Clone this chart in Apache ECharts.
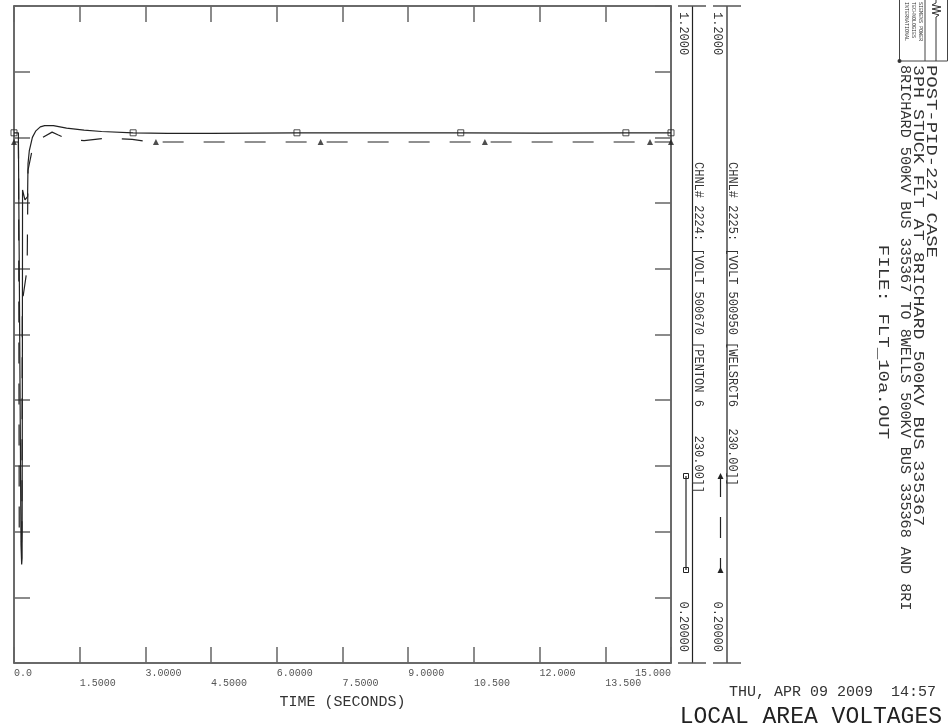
<!DOCTYPE html>
<html><head><meta charset="utf-8">
<script src="https://cdn.jsdelivr.net/npm/echarts@6/dist/echarts.min.js"></script>
<style>html,body{margin:0;padding:0;background:#fff}#c{width:951px;height:726px}</style>
</head><body><div id="c"></div>
<script>
// ---------------- data ----------------
const xTickLabels = ['0.0','1.5000','3.0000','4.5000','6.0000','7.5000','9.0000','10.500','12.000','13.500','15.000'];
const yMin = 0.2, yMax = 1.2;
const stripTopLabel = '1.2000';
const stripBottomLabel = '0.20000';

// CHNL# 2224 (solid, squares)
const time2224 = [0, 0.10, 0.11, 0.13, 0.16, 0.175, 0.185, 0.19, 0.195, 0.25, 0.31, 0.32, 0.35, 0.42, 0.5, 0.6, 0.7, 0.9, 1.2, 1.6, 2.0, 2.72, 3.5, 4.5, 5.5, 6.46, 8.0, 10.2, 12.0, 13.97, 15.0];
const volt2224 = [1.007, 1.007, 1.005, 0.70, 0.38, 0.35, 0.36, 0.60, 0.92, 0.905, 0.91, 0.96, 0.98, 1.000, 1.010, 1.016, 1.018, 1.018, 1.014, 1.011, 1.009, 1.007, 1.006, 1.006, 1.0065, 1.007, 1.007, 1.007, 1.0065, 1.007, 1.007];
const markerTimes2224 = [0, 2.72, 6.46, 10.2, 13.97, 15.0];

// CHNL# 2225 (dashed, triangles)
const time2225 = [0, 0.10, 0.105, 0.12, 0.17, 0.18, 0.19, 0.30, 0.32, 0.4, 0.55, 0.87, 1.0, 1.23, 1.6, 2.1, 2.7, 3.0, 3.24, 4.0, 5.0, 7.0, 9.0, 10.75, 12.5, 14.52, 15.0];
const volt2225 = [0.993, 0.993, 0.95, 0.392, 0.38, 0.40, 0.75, 0.80, 0.95, 0.976, 0.996, 1.008, 1.004, 0.997, 0.995, 0.999, 0.997, 0.994, 0.993, 0.993, 0.993, 0.993, 0.993, 0.993, 0.993, 0.993, 0.993];
const markerTimes2225 = [0, 3.24, 7.0, 10.75, 14.52, 15.0];

const ch1Label = 'CHNL# 2224: [VOLT 500670 [PENTON 6    230.00]]';
const ch2Label = 'CHNL# 2225: [VOLT 500950 [WELSRCT6   230.00]]';
const headerLines = [
  'POST-PID-227 CASE',
  '3PH STUCK FLT AT 8RICHARD 500KV BUS 335367',
  '8RICHARD 500KV BUS 335367 TO 8WELLS 500KV BUS 335368 AND 8RI'
];
const fileLine = 'FILE: FLT_10a.OUT';
const dateText = 'THU, APR 09 2009  14:57';
const titleText = 'LOCAL AREA VOLTAGES';
const xName = 'TIME (SECONDS)';
const logoLines = ['SIEMENS POWER', 'TECHNOLOGIES', 'INTERNATIONAL'];

// ---------------- chart ----------------
const MONO = '"Liberation Mono","DejaVu Sans Mono",monospace';
const pts = (ts, vs) => ts.map((t, i) => [t, vs[i]]);
const pick = (ts, vs, mt) => mt.map(m => { const i = ts.indexOf(m); return [ts[i], vs[i]]; });
const lab = v => xTickLabels[Math.round(v / 1.5)];

const chart = echarts.init(document.getElementById('c'), null, {renderer: 'canvas'});

const axisCol = '#3a3a3a', tickCol = '#666';

function rtext(x, y, text, size, align, extra) {
  return Object.assign({
    type: 'text', x: x, y: y, rotation: -Math.PI / 2,
    style: {text: text, fontFamily: MONO, fontSize: size, fill: '#333', align: align || 'left', verticalAlign: 'middle'}
  }, extra || {});
}
function line(x1, y1, x2, y2, col, w, dash) {
  return {type: 'line', shape: {x1, y1, x2, y2}, style: {stroke: col || '#333', lineWidth: w || 1, lineDash: dash || null}};
}

const graphics = [
  // strip 1 (CHNL 2224)
  line(692.5, 6, 692.5, 663, '#222', 1.2),
  line(678, 6, 706, 6, '#555', 1.5),
  line(678, 663, 706, 663, '#555', 1.5),
  rtext(683, 12, stripTopLabel, 12, 'left'),
  rtext(683, 652, stripBottomLabel, 12, 'right'),
  rtext(698, 162, ch1Label, 12, 'left'),
  line(686, 476, 686, 570, '#222', 1.2),
  {type: 'rect', shape: {x: 683.5, y: 473.5, width: 5, height: 5}, style: {fill: 'none', stroke: '#222', lineWidth: 1}},
  {type: 'rect', shape: {x: 683.5, y: 567.5, width: 5, height: 5}, style: {fill: 'none', stroke: '#222', lineWidth: 1}},
  // strip 2 (CHNL 2225)
  line(727, 6, 727, 663, '#777', 2),
  line(713, 6, 741, 6, '#555', 1.5),
  line(713, 663, 741, 663, '#555', 1.5),
  rtext(717, 12, stripTopLabel, 12, 'left'),
  rtext(717, 652, stripBottomLabel, 12, 'right'),
  rtext(732, 162, ch2Label, 12, 'left'),
  line(720.5, 476, 720.5, 570, '#222', 1.2, [21, 20]),
  {type: 'polygon', shape: {points: [[720.5, 473], [717.5, 479], [723.5, 479]]}, style: {fill: '#222'}},
  {type: 'polygon', shape: {points: [[720.5, 567], [717.5, 573], [723.5, 573]]}, style: {fill: '#222'}},
  // header block
  rtext(931, 65, headerLines[0], 15, 'left', {scaleX: 1.26}),
  rtext(918, 65, headerLines[1], 15, 'left', {scaleX: 1.22}),
  rtext(905, 65, headerLines[2], 15, 'left', {scaleX: 1.01}),
  rtext(883, 342, fileLine, 15, 'center', {scaleX: 1.27}),
  // logo
  {type: 'rect', shape: {x: 899.5, y: -1, width: 48, height: 62}, style: {fill: 'none', stroke: '#444', lineWidth: 1}},
  line(925, -1, 925, 61, '#444', 1),
  {type: 'polyline', shape: {points: [[936, 0], [936, 3], [932, 5], [941, 7], [932, 9], [941, 11], [932, 13], [939, 15], [936, 17], [936, 61]]}, style: {stroke: '#333', fill: 'none', lineWidth: 1}},
  {type: 'circle', shape: {cx: 899.5, cy: 61, r: 2}, style: {fill: '#333'}},
  rtext(920, 2, logoLines[0], 5, 'left', {}),
  rtext(913, 2, logoLines[1], 5, 'left', {}),
  rtext(906, 2, logoLines[2], 5, 'left', {})
];

const option = {
  animation: false,
  backgroundColor: '#fff',
  title: [
    {text: titleText, right: 4, top: 700, textStyle: {fontFamily: MONO, fontSize: 23, fontWeight: 'normal', color: '#222'}},
    {text: dateText, right: 10, top: 680, textStyle: {fontFamily: MONO, fontSize: 15, fontWeight: 'normal', color: '#333'}}
  ],
  grid: {left: 14, top: 6, right: 280, bottom: 63, containLabel: false},
  xAxis: [
    {type: 'value', position: 'bottom', min: 0, max: 15, interval: 1.5,
     axisLine: {show: true, onZero: false, lineStyle: {color: axisCol, width: 1.5}},
     axisTick: {show: true, inside: true, length: 16, lineStyle: {color: tickCol, width: 1.5}},
     splitLine: {show: false},
     axisLabel: {show: true, margin: 5, align: 'left', alignMaxLabel: 'right', fontFamily: MONO, fontSize: 10, color: '#555',
       formatter: v => (Math.round(v / 1.5) % 2 === 0 ? lab(v) : '')},
     name: xName, nameLocation: 'middle', nameGap: 32,
     nameTextStyle: {fontFamily: MONO, fontSize: 15, color: '#333'}},
    {type: 'value', position: 'bottom', min: 0, max: 15, interval: 1.5, gridIndex: 0,
     axisLine: {show: false, onZero: false}, axisTick: {show: false}, splitLine: {show: false},
     axisLabel: {show: true, margin: 15, align: 'left', fontFamily: MONO, fontSize: 10, color: '#555',
       formatter: v => (Math.round(v / 1.5) % 2 === 1 ? lab(v) : '')}},
    {type: 'value', position: 'top', min: 0, max: 15, interval: 1.5,
     axisLine: {show: true, onZero: false, lineStyle: {color: axisCol, width: 1.5}},
     axisTick: {show: true, inside: true, length: 16, lineStyle: {color: tickCol, width: 1.5}},
     axisLabel: {show: false}, splitLine: {show: false}}
  ],
  yAxis: [
    {type: 'value', position: 'left', min: yMin, max: yMax, interval: 0.1,
     axisLine: {show: true, onZero: false, lineStyle: {color: axisCol, width: 1.5}},
     axisTick: {show: true, inside: true, length: 16, lineStyle: {color: tickCol, width: 1.5}},
     axisLabel: {show: false}, splitLine: {show: false}},
    {type: 'value', position: 'right', min: yMin, max: yMax, interval: 0.1,
     axisLine: {show: true, onZero: false, lineStyle: {color: axisCol, width: 1.5}},
     axisTick: {show: true, inside: true, length: 16, lineStyle: {color: tickCol, width: 1.5}},
     axisLabel: {show: false}, splitLine: {show: false}}
  ],
  series: [
    {type: 'line', name: 'CHNL# 2224', xAxisIndex: 0, yAxisIndex: 0, data: pts(time2224, volt2224),
     symbol: 'none', lineStyle: {color: '#222', width: 1.2}, clip: true, z: 3},
    {type: 'line', name: 'CHNL# 2225', xAxisIndex: 0, yAxisIndex: 0, data: pts(time2225, volt2225),
     symbol: 'none', lineStyle: {color: '#222', width: 1.2, type: [21, 20]}, clip: true, z: 3},
    {type: 'scatter', xAxisIndex: 0, yAxisIndex: 0, data: pick(time2224, volt2224, markerTimes2224),
     symbol: 'rect', symbolSize: 6, itemStyle: {color: 'rgba(0,0,0,0)', borderColor: '#222', borderWidth: 1}, z: 4},
    {type: 'scatter', xAxisIndex: 0, yAxisIndex: 0, data: pick(time2225, volt2225, markerTimes2225),
     symbol: 'triangle', symbolSize: 6, itemStyle: {color: '#222'}, z: 4}
  ],
  graphic: graphics
};
chart.setOption(option);
</script></body></html>
